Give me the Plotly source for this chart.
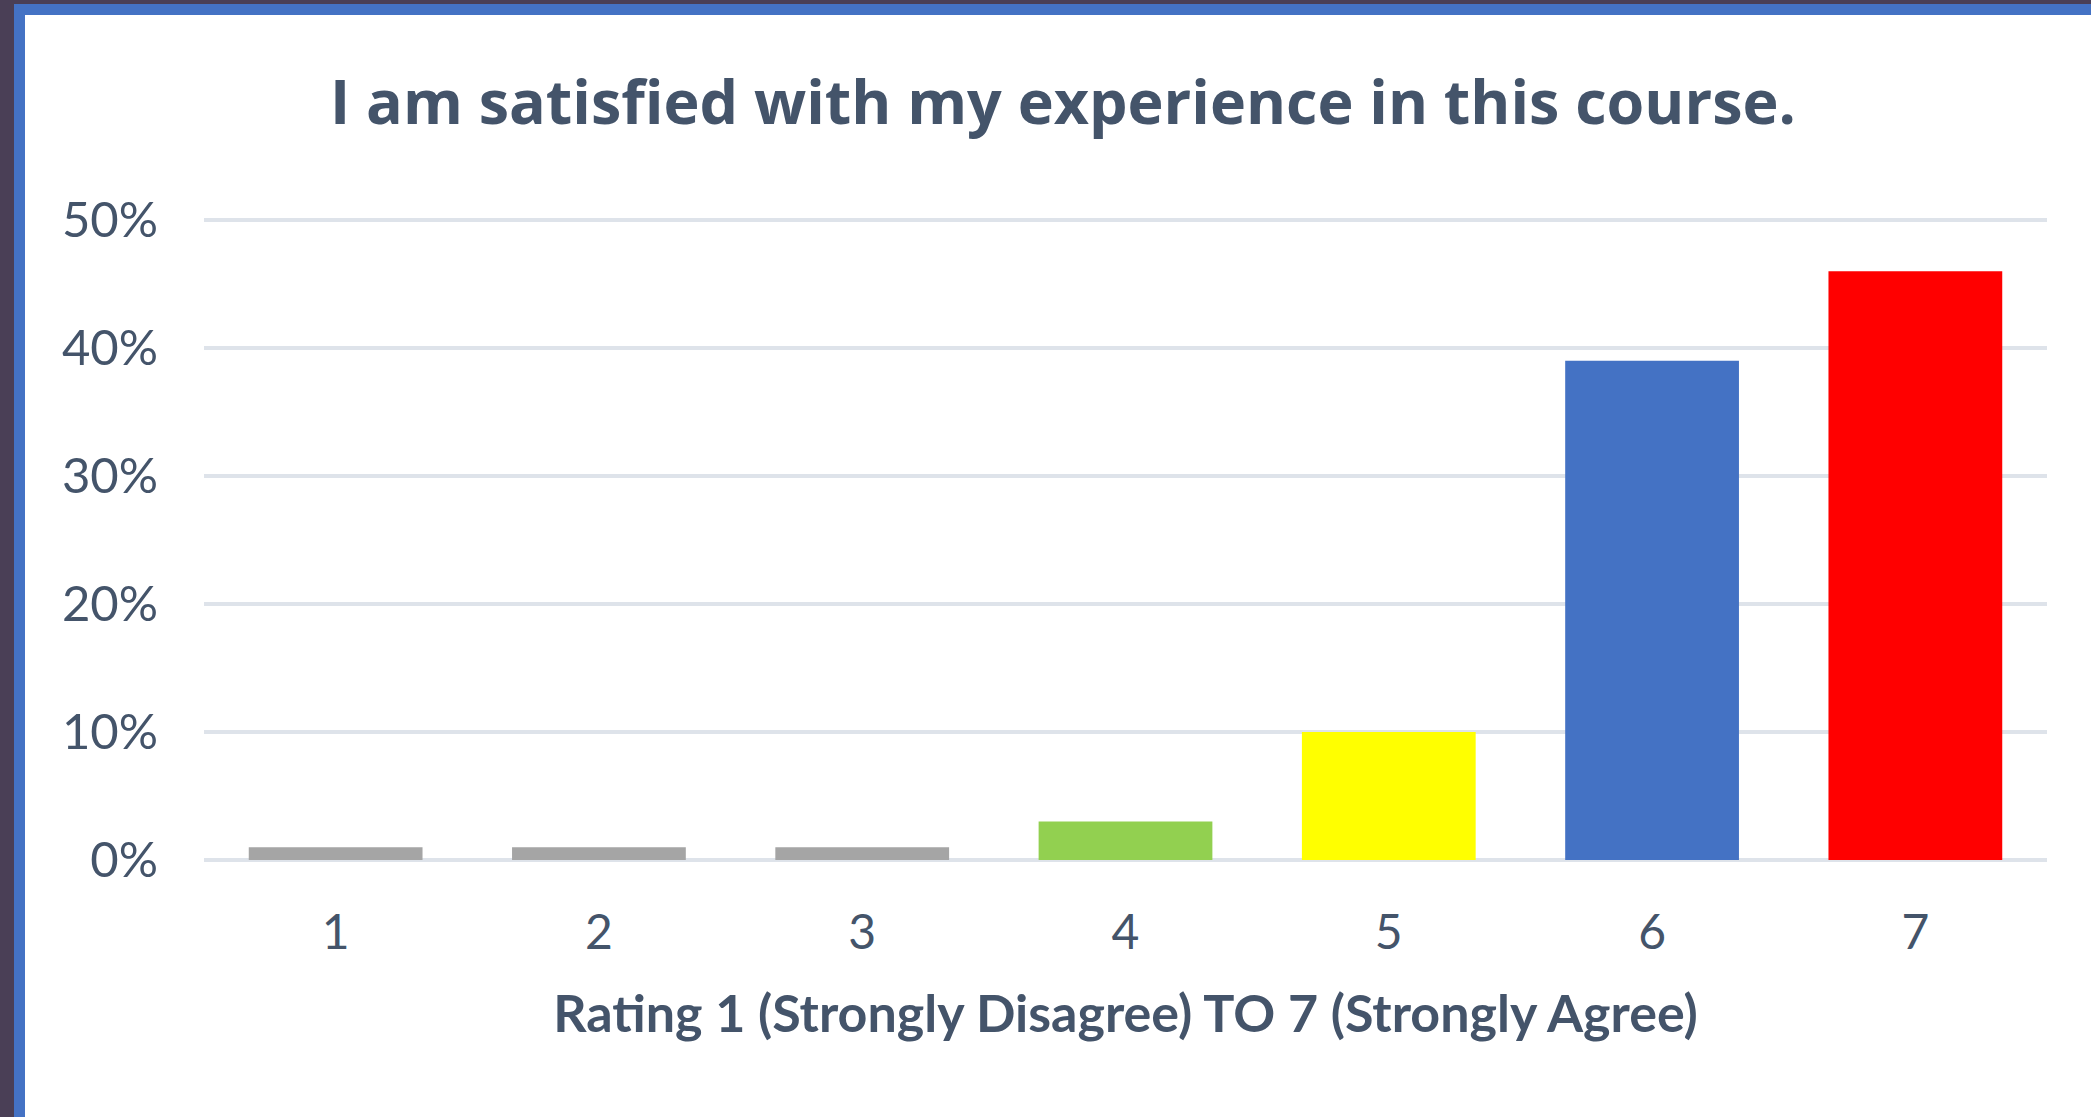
import plotly.graph_objects as go

categories = ["1", "2", "3", "4", "5", "6", "7"]
values = [0.01, 0.01, 0.01, 0.03, 0.10, 0.39, 0.46]
bar_colors = ["#A5A5A5", "#A5A5A5", "#A5A5A5", "#92D050", "#FFFF00", "#4472C4", "#FF0000"]
y_ticks = [0, 0.1, 0.2, 0.3, 0.4, 0.5]
y_tick_labels = ["0%", "10%", "20%", "30%", "40%", "50%"]

title_text = "I am satisfied with my experience in this course."
x_title_text = "Rating 1 (Strongly Disagree) TO 7 (Strongly Agree)"

W, H = 2091, 1117
L, R, T, B = 204, 44, 218, 257
TEXT = "#44546A"
GRID = "#DEE3EA"
Y_MAX = 0.5 * (H - T - B) / (H - 220 - B)

fig = go.Figure(go.Bar(
    x=categories, y=values,
    marker=dict(color=bar_colors, line=dict(width=0)),
    hoverinfo="skip",
))

def px_x(p):
    return (p - L) / (W - L - R)

def px_y(p):
    return (H - B - p) / (H - T - B)

shapes = [
    dict(type="rect", xref="paper", yref="paper", x0=px_x(0), x1=px_x(14), y0=px_y(H), y1=px_y(0),
         fillcolor="#4A3F56", line=dict(width=0), layer="below"),
    dict(type="rect", xref="paper", yref="paper", x0=px_x(0), x1=px_x(W), y0=px_y(4), y1=px_y(0),
         fillcolor="#4A3F56", line=dict(width=0), layer="below"),
    dict(type="rect", xref="paper", yref="paper", x0=px_x(14), x1=px_x(25), y0=px_y(H), y1=px_y(4),
         fillcolor="#4472C4", line=dict(width=0), layer="below"),
    dict(type="rect", xref="paper", yref="paper", x0=px_x(14), x1=px_x(W), y0=px_y(15), y1=px_y(4),
         fillcolor="#4472C4", line=dict(width=0), layer="below"),
]

fig.update_layout(
    width=W, height=H,
    margin=dict(l=L, r=R, t=T, b=B),
    paper_bgcolor="white", plot_bgcolor="white",
    showlegend=False,
    bargap=0.34,
    shapes=shapes,
    title=dict(
        text=title_text, x=1063 / W, xanchor="center", xref="container",
        y=1 - 103 / H, yanchor="middle", yref="container",
        font=dict(family="Open Sans", size=61, color=TEXT, weight="bold"),
    ),
    xaxis=dict(
        type="category", showgrid=False, zeroline=False, showline=False, ticks="",
        tickfont=dict(family="Lato", size=48, color=TEXT),
        ticklabelstandoff=40,
        title=dict(text=x_title_text, standoff=37,
                   font=dict(family="Lato", size=52, color=TEXT, weight="bold")),
    ),
    yaxis=dict(
        range=[0, Y_MAX], tickvals=y_ticks, ticktext=y_tick_labels,
        showgrid=True, gridcolor=GRID, gridwidth=4,
        zeroline=True, zerolinecolor=GRID, zerolinewidth=4,
        showline=False, ticks="",
        tickfont=dict(family="Lato", size=49, color=TEXT),
        ticklabelstandoff=45,
    ),
)

fig.write_html(
    "out.html",
    config={"displayModeBar": False},
    post_script="document.body.style.margin='0';document.body.style.overflow='hidden';",
)
